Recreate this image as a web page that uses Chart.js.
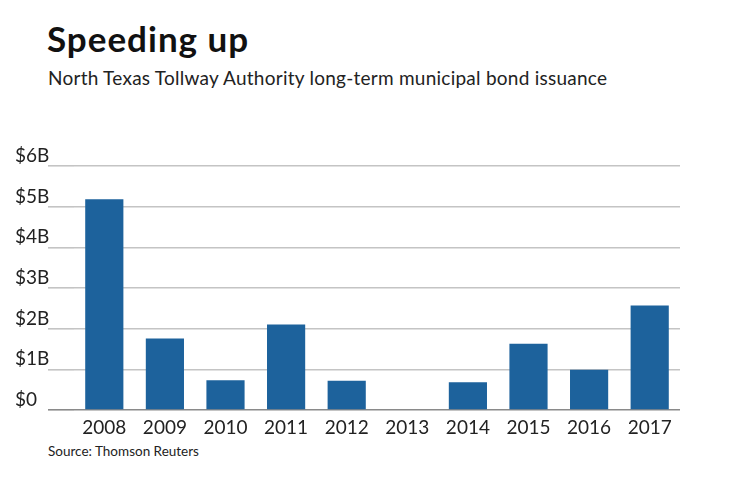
<!DOCTYPE html>
<html lang="en">
<head>
    <meta charset="UTF-8">
    <title>Speeding up</title>
    <style>
        body { margin: 0; background: #fff; font-family: 'Lato', sans-serif; color: #111; }
        .wrap { position: relative; width: 740px; height: 482px; overflow: hidden; }
        h1 { position: absolute; left: 47px; top: 17px; margin: 0; font-size: 35px; font-weight: 700; letter-spacing: 1px; }
        .sub { position: absolute; left: 48px; top: 66px; margin: 0; font-size: 19px; letter-spacing: 0.25px; color: #222; }
        .src { position: absolute; left: 48px; top: 443px; margin: 0; font-size: 13.5px; color: #222; }
        .box { position: absolute; left: 0; top: 140px; width: 740px; height: 300px; }
    </style>
</head>
<body>
<div class="wrap">
    <h1>Speeding up</h1>
    <p class="sub">North Texas Tollway Authority long-term municipal bond issuance</p>
    <div class="box"><canvas id="chart"></canvas></div>
    <p class="src">Source: Thomson Reuters</p>
</div>

<script src="https://cdn.jsdelivr.net/npm/chart.js"></script>
<script>
    const years = ['2008', '2009', '2010', '2011', '2012', '2013', '2014', '2015', '2016', '2017'];
    // issuance in billions of dollars
    const issuance = [5.18, 1.76, 0.73, 2.1, 0.72, 0, 0.68, 1.63, 0.99, 2.57];
    const yTicks = ['$0', '$1B', '$2B', '$3B', '$4B', '$5B', '$6B'];

    new Chart(document.getElementById('chart'), {
        type: 'bar',
        data: {
            labels: years,
            datasets: [{
                data: issuance,
                backgroundColor: '#1d629c',
                categoryPercentage: 1,
                barPercentage: 0.63
            }]
        },
        options: {
            responsive: true,
            maintainAspectRatio: false,
            animation: false,
            layout: { padding: { left: 15, right: 60, top: 26, bottom: 0 } },
            plugins: { legend: { display: false }, tooltip: { enabled: false } },
            scales: {
                x: {
                    grid: { display: false },
                    border: { display: false },
                    ticks: { color: '#222', font: { family: 'Lato', size: 19 }, padding: -2, maxRotation: 0 },
                    afterFit: s => { s.height = 30; }
                },
                y: {
                    min: 0,
                    max: 6,
                    border: { display: false },
                    grid: {
                        color: ctx => ctx.tick && ctx.tick.value === 0 ? '#8a8a8a' : '#c4c4c4',
                        lineWidth: 1.6,
                        drawTicks: true,
                        tickLength: 26
                    },
                    ticks: {
                        stepSize: 1,
                        crossAlign: 'far',
                        labelOffset: -10,
                        padding: 0,
                        color: '#222',
                        font: { family: 'Lato', size: 19 },
                        callback: v => yTicks[v]
                    },
                    afterFit: s => { s.width = 59; }
                }
            }
        }
    });
</script>
</body>
</html>
